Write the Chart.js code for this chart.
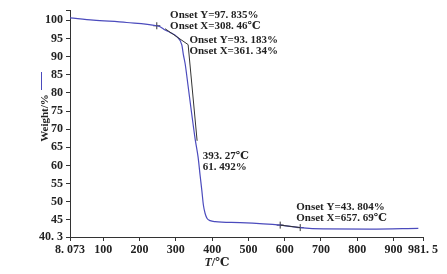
<!DOCTYPE html>
<html>
<head>
<meta charset="utf-8">
<script src="https://cdn.jsdelivr.net/npm/chart.js@4/dist/chart.umd.min.js"></script>
<style>
  html, body { margin: 0; padding: 0; background: #fff; }
  #tga { display: block; }
</style>
</head>
<body>
<canvas id="tga" width="447" height="274"></canvas>
<script>
// TGA curve (T in degC, weight in %)
const tempC = [8.07, 72.4, 164.6, 247.4, 256.5, 270.3, 284.1, 302.6, 316.4, 320.8, 325.5, 333.8, 343.4, 353.1, 361.4, 366.9, 371.6, 376.0, 380.7, 386.2, 394.5, 408.3, 477.3, 587.7, 642.9, 706.4, 836.1, 968.6];
const weightPct = [100.70, 100.07, 99.41, 98.51, 98.24, 97.33, 96.68, 95.50, 93.23, 90.50, 88.12, 81.84, 74.46, 67.35, 62.24, 57.24, 53.14, 49.04, 46.77, 45.41, 44.81, 44.53, 44.26, 43.58, 42.89, 42.54, 42.48, 42.67];

// onset tangent construction (black)
const tangentT = [270.3, 333.8, 358.6];
const tangentW = [97.69, 93.32, 66.8];
const endTangentT = [587.7, 642.9];
const endTangentW = [43.58, 42.89];

// small cross marks on the curve
const crossT = [247.4, 587.7, 642.9];
const crossW = [98.51, 43.58, 42.89];

// axis ticks
const xTicks = [8.073, 100, 200, 300, 400, 500, 600, 700, 800, 900, 981.5];
const xTickLabels = ['8. 073', '100', '200', '300', '400', '500', '600', '700', '800', '900', '981. 5'];
const yTicks = [40.3, 45, 50, 55, 60, 65, 70, 75, 80, 85, 90, 95, 100, 102.8];
const yTickLabels = ['40. 3', '45', '50', '55', '60', '65', '70', '75', '80', '85', '90', '95', '100', ''];

// annotation texts, anchored at data coords (left edge, first line)
const notes = [
  { t: 284.1, w: 101.43, lines: ['Onset Y=97. 835%', 'Onset X=308. 46\u2103'] },
  { t: 337.4, w: 94.41, lines: ['Onset Y=93. 183%', 'Onset X=361. 34%'] },
  { t: 374.3, w: 62.71, lines: ['393. 27\u2103', '61. 492%'] },
  { t: 632.0, w: 48.41, lines: ['Onset Y=43. 804%', 'Onset X=657. 69\u2103'] }
];

const FONT = '"Liberation Serif", "DejaVu Serif", serif';
const INK = '#222';
const CURVE = '#4b4bbd';

const pts = (xs, ys) => xs.map((x, i) => ({ x: x, y: ys[i] }));

const decor = {
  id: 'decor',
  afterDraw(chart) {
    const c = chart.ctx, xs = chart.scales.x, ys = chart.scales.y;
    c.save();
    c.fillStyle = INK;
    c.font = 'bold 11px ' + FONT;
    c.textAlign = 'left';
    c.textBaseline = 'middle';
    notes.forEach(n => {
      const px = xs.getPixelForValue(n.t), py = ys.getPixelForValue(n.w);
      n.lines.forEach((s, i) => c.fillText(s, px, py + i * 11));
    });

    // x title: italic T + /degC
    const xc = 217, yc = 263;
    c.font = 'italic bold 12px ' + FONT;
    const wT = c.measureText('T').width;
    c.font = 'bold 12px ' + FONT;
    const wR = c.measureText('/\u2103').width;
    const x0 = xc - (wT + wR) / 2;
    c.font = 'italic bold 12px ' + FONT;
    c.fillText('T', x0, yc);
    c.font = 'bold 12px ' + FONT;
    c.fillText('/\u2103', x0 + wT, yc);

    // y title, rotated, with the short blue legend line above it
    c.save();
    c.translate(45, 118);
    c.rotate(-Math.PI / 2);
    c.textAlign = 'center';
    c.font = 'bold 11px ' + FONT;
    c.fillText('Weight/%', 0, 0);
    c.restore();
    c.strokeStyle = CURVE;
    c.lineWidth = 1;
    c.beginPath();
    c.moveTo(41.5, 72);
    c.lineTo(41.5, 90);
    c.stroke();
    c.restore();
  }
};

new Chart(document.getElementById('tga'), {
  type: 'scatter',
  data: {
    datasets: [
      {
        data: pts(tangentT, tangentW),
        showLine: true, borderColor: '#333', borderWidth: 1,
        pointRadius: 0, tension: 0
      },
      {
        data: pts(endTangentT, endTangentW),
        showLine: true, borderColor: '#333', borderWidth: 1,
        pointRadius: 0, tension: 0
      },
      {
        data: pts(tempC, weightPct),
        showLine: true, borderColor: CURVE, borderWidth: 1.2,
        pointRadius: 0, cubicInterpolationMode: 'monotone'
      },
      {
        data: pts(crossT, crossW),
        showLine: false, pointStyle: 'cross', pointRadius: 3.5,
        borderColor: '#333', borderWidth: 1
      }
    ]
  },
  options: {
    responsive: false,
    animation: false,
    devicePixelRatio: 1,
    layout: { padding: { left: 0, right: 24, top: 8, bottom: 0 } },
    plugins: { legend: { display: false }, tooltip: { enabled: false } },
    scales: {
      x: {
        type: 'linear', min: 8.073, max: 981.5,
        afterBuildTicks: s => { s.ticks = xTicks.map(v => ({ value: v })); },
        afterFit: s => { s.height = 37; },
        grid: { drawOnChartArea: false, drawTicks: true, tickLength: 4, color: '#333' },
        border: { display: true, color: '#333', width: 1 },
        ticks: {
          color: INK, padding: 2, maxRotation: 0, autoSkip: false,
          font: { family: FONT, size: 12, weight: 'bold' },
          callback: (v, i) => xTickLabels[i]
        }
      },
      y: {
        type: 'linear', min: 40.3, max: 102.8,
        afterBuildTicks: s => { s.ticks = yTicks.map(v => ({ value: v })); },
        afterFit: s => { s.width = 70; },
        grid: { drawOnChartArea: false, drawTicks: true, tickLength: 4, color: '#333' },
        border: { display: true, color: '#333', width: 1 },
        ticks: {
          color: INK, padding: 3, autoSkip: false,
          font: { family: FONT, size: 12, weight: 'bold' },
          callback: (v, i) => yTickLabels[i]
        }
      }
    }
  },
  plugins: [decor]
});
</script>
</body>
</html>
